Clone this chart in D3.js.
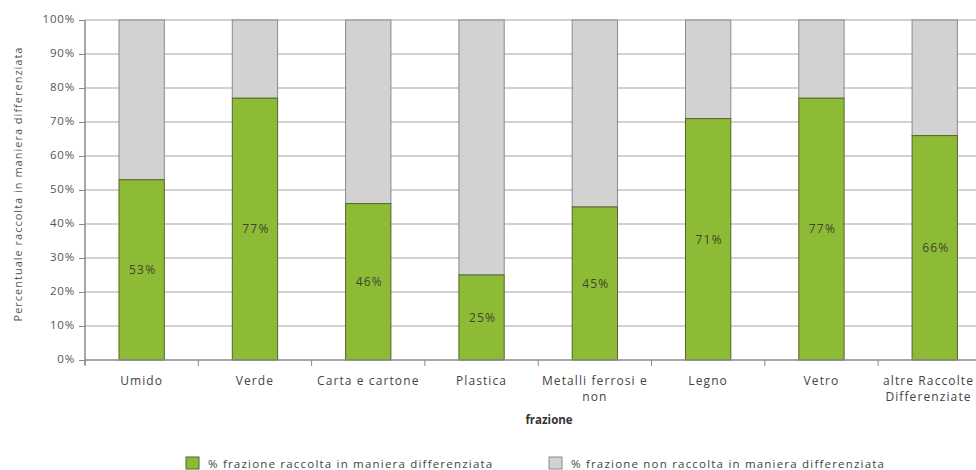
<!DOCTYPE html>
<html>
<head>
<meta charset="utf-8">
<script src="https://cdn.jsdelivr.net/npm/d3@7"></script>
<style>
  html, body { margin: 0; padding: 0; background: #fff; overflow: hidden; }
  svg { display: block; font-family: "Open Sans", sans-serif; }
</style>
</head>
<body>
<svg id="chart" width="976" height="470"></svg>
<script>
const categories = ["Umido", "Verde", "Carta e cartone", "Plastica", "Metalli ferrosi e non", "Legno", "Vetro", "altre Raccolte Differenziate"];
const categoryLines = [["Umido"], ["Verde"], ["Carta e cartone"], ["Plastica"], ["Metalli ferrosi e", "non"], ["Legno"], ["Vetro"], ["altre Raccolte", "Differenziate"]];
const collected = [53, 77, 46, 25, 45, 71, 77, 66];
const notCollected = collected.map(v => 100 - v);
const yTicks = [0, 10, 20, 30, 40, 50, 60, 70, 80, 90, 100];
const seriesNames = ["% frazione raccolta in maniera differenziata", "% frazione non raccolta in maniera differenziata"];
const yTitle = "Percentuale raccolta in maniera differenziata";
const xTitle = "frazione";

const svg = d3.select("#chart");
const W = 976;
const mLeft = 85, mTop = 20, mBottom = 360, bandW = 113.3;
const mRight = mLeft + bandW * categories.length;

const x = d3.scaleBand().domain(categories).range([mLeft, mRight]).paddingInner(0.6).paddingOuter(0.3);
const y = d3.scaleLinear().domain([0, 100]).range([mBottom, mTop]);

const green = "#8dbb35", greenStroke = "#55652c";
const grey = "#d2d2d2", greyStroke = "#8a8a8a";

// gridlines
svg.append("g").selectAll("line").data(yTicks.filter(d => d > 0)).join("line")
  .attr("x1", mLeft).attr("x2", W)
  .attr("y1", d => y(d)).attr("y2", d => y(d))
  .attr("stroke", "#a4a4a4").attr("stroke-width", 1.2);

// y axis
const yAxis = d3.axisLeft(y).tickValues(yTicks).tickFormat(d => d + "%").tickSize(6).tickPadding(4);
const gy = svg.append("g").attr("transform", `translate(${mLeft},0)`).call(yAxis);
gy.select(".domain").attr("stroke", "#8a8a8a").attr("stroke-width", 1.5).attr("d", `M0,${mTop}V${mBottom + 5}`);
gy.selectAll(".tick line").attr("stroke", "#8a8a8a");
gy.selectAll(".tick text").attr("fill", "#555").attr("font-size", 11.5)
  .attr("letter-spacing", 0.8).attr("dy", "0.2em").attr("font-family", "Open Sans, sans-serif");

// bars
const stackData = categories.map((c, i) => ({ cat: c, a: collected[i], b: notCollected[i] }));
const gBars = svg.append("g");
gBars.selectAll("rect.grey").data(stackData).join("rect").attr("class", "grey")
  .attr("x", d => x(d.cat)).attr("width", x.bandwidth())
  .attr("y", d => y(d.a + d.b)).attr("height", d => y(d.a) - y(d.a + d.b))
  .attr("fill", grey).attr("stroke", greyStroke).attr("stroke-width", 1);
gBars.selectAll("rect.green").data(stackData).join("rect").attr("class", "green")
  .attr("x", d => x(d.cat)).attr("width", x.bandwidth())
  .attr("y", d => y(d.a)).attr("height", d => y(0) - y(d.a))
  .attr("fill", green).attr("stroke", greenStroke).attr("stroke-width", 1);

gBars.selectAll("text.val").data(stackData).join("text").attr("class", "val")
  .attr("x", d => x(d.cat) + x.bandwidth() / 2 + 1)
  .attr("y", d => y(d.a / 2))
  .attr("dy", "0.35em").attr("text-anchor", "middle")
  .attr("font-size", 12).attr("letter-spacing", 1.2).attr("fill", "#434330")
  .text(d => d.a + "%");

// x axis
const gx = svg.append("g").attr("transform", `translate(0,${mBottom})`);
gx.append("line").attr("x1", mLeft).attr("x2", W).attr("y1", 0).attr("y2", 0)
  .attr("stroke", "#8a8a8a").attr("stroke-width", 1.5);
gx.selectAll("line.tk").data(d3.range(categories.length + 1)).join("line").attr("class", "tk")
  .attr("x1", i => mLeft + i * (mRight - mLeft) / categories.length)
  .attr("x2", i => mLeft + i * (mRight - mLeft) / categories.length)
  .attr("y1", 0).attr("y2", 6).attr("stroke", "#8a8a8a");
const lab = gx.selectAll("text.cat").data(categories).join("text").attr("class", "cat")
  .attr("y", 25)
  .attr("text-anchor", "middle").attr("font-size", 12).attr("letter-spacing", 1.1).attr("fill", "#444");
lab.each(function(d, i) {
  const t = d3.select(this);
  const cx = x(d) + x.bandwidth() / 2;
  categoryLines[i].forEach((ln, j) => {
    t.append("tspan").attr("x", cx).attr("dy", j === 0 ? 0 : 16).text(ln);
  });
  // keep the label inside the visible area
  const bb = this.getBBox();
  const over = bb.x + bb.width - (W - 2);
  if (over > 0) t.selectAll("tspan").attr("x", cx - over);
});

// axis titles
svg.append("text").attr("x", 549).attr("y", 424).attr("text-anchor", "middle")
  .attr("font-size", 11.5).attr("font-weight", "bold").attr("fill", "#333").text(xTitle);
svg.append("text").attr("transform", `translate(22,184) rotate(-90)`).attr("text-anchor", "middle")
  .attr("font-size", 11).attr("letter-spacing", 1).attr("fill", "#555").text(yTitle);

// legend
const legendX = [186, 549];
const legendColors = [[green, greenStroke], [grey, greyStroke]];
const lg = svg.append("g");
seriesNames.forEach((name, i) => {
  lg.append("rect").attr("x", legendX[i]).attr("y", 457).attr("width", 13).attr("height", 12)
    .attr("fill", legendColors[i][0]).attr("stroke", legendColors[i][1]);
  lg.append("text").attr("x", legendX[i] + 22).attr("y", 468)
    .attr("font-size", 11.5).attr("letter-spacing", 1.2).attr("fill", "#444").text(name);
});
</script>
</body>
</html>
